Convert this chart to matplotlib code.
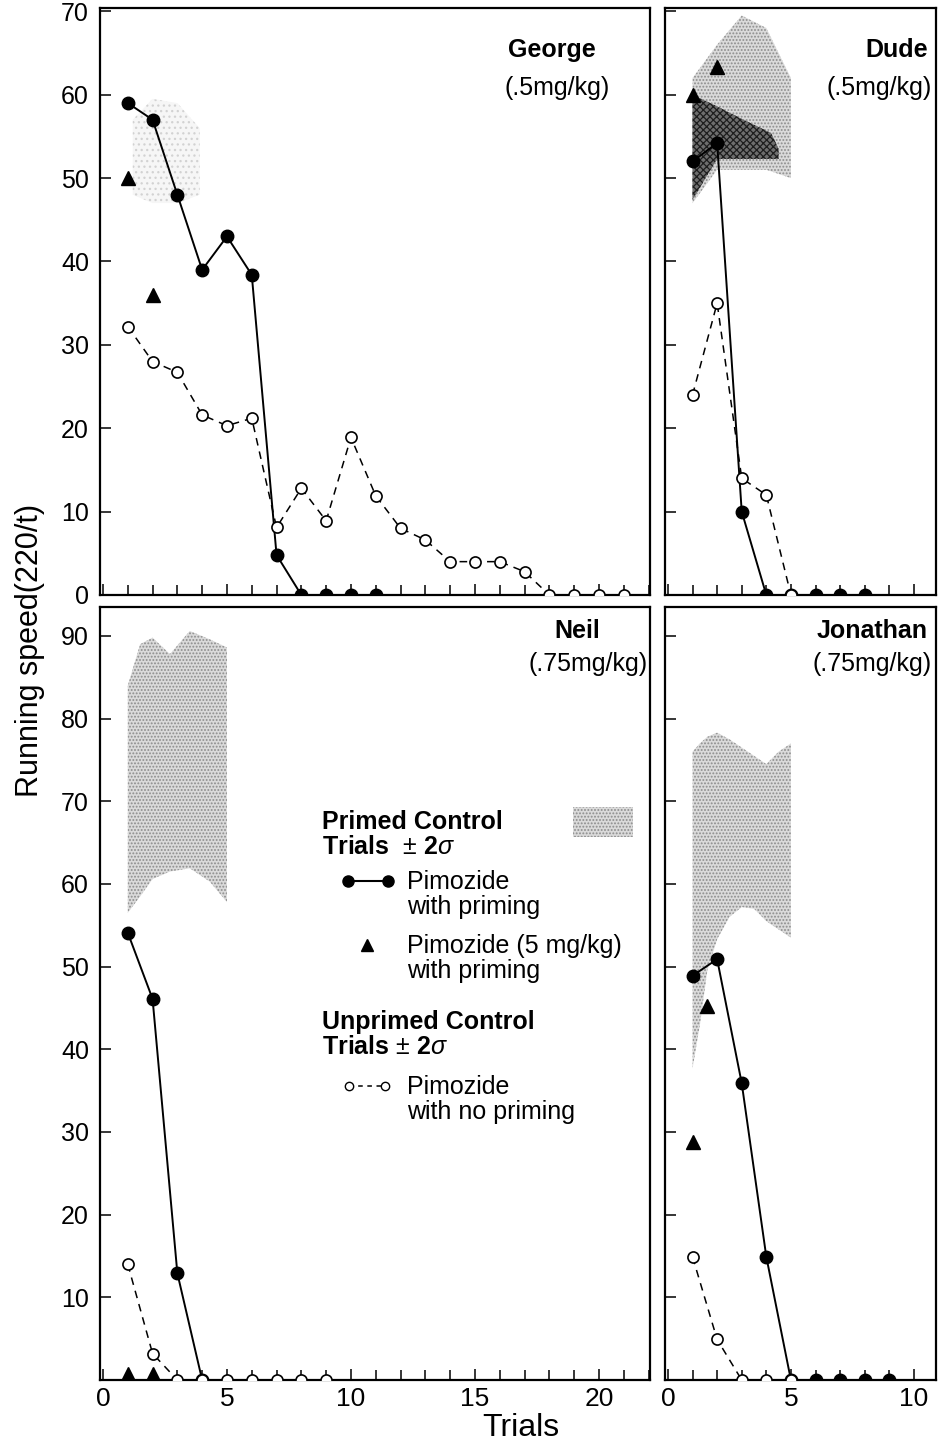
import matplotlib
matplotlib.use("Agg")
import matplotlib.pyplot as plt
from matplotlib.lines import Line2D
from matplotlib.patches import Rectangle

plt.rcParams['font.family'] = ['Liberation Sans', 'DejaVu Sans']
plt.rcParams['mathtext.fontset'] = 'custom'
plt.rcParams['mathtext.it'] = 'Liberation Sans:italic'
plt.rcParams['mathtext.rm'] = 'Liberation Sans'
plt.rcParams['hatch.linewidth'] = 0.9

# ---------------- data ----------------
# George (.5 mg/kg)
george_primed_x = [1, 2, 3, 4, 5, 6, 7, 8, 9, 10, 11]
george_primed_y = [59, 57, 48, 39, 43, 38.4, 4.8, 0, 0, 0, 0]
george_tri_x = [1, 2]
george_tri_y = [50, 36]
george_unprimed_x = list(range(1, 22))
george_unprimed_y = [32.2, 28.0, 26.7, 21.6, 20.3, 21.2, 8.1, 12.8, 8.9, 18.9, 11.9,
                     8.0, 6.6, 4.0, 4.0, 4.0, 2.8, 0, 0, 0, 0]
george_band_x = [1.2, 2, 3, 3.9]
george_band_hi = [57, 59.5, 59, 56]
george_band_lo = [48, 47, 47, 48]

# Dude (.5 mg/kg)
dude_primed_x = [1, 2, 3, 4, 5, 6, 7, 8]
dude_primed_y = [52, 54.2, 10, 0, 0, 0, 0, 0]
dude_tri_x = [1, 2]
dude_tri_y = [60, 63.3]
dude_unprimed_x = [1, 2, 3, 4, 5]
dude_unprimed_y = [24, 35, 14, 12, 0]
dude_band_x = [1, 2, 3, 4, 5]
dude_band_hi = [62, 66, 69.5, 68, 62]
dude_band_lo = [47, 51, 51, 51, 50]
dude_band2_x = [1, 2, 3, 4.2, 4.5]
dude_band2_hi = [60, 58.6, 57.1, 55.4, 53.5]
dude_band2_lo = [47.4, 52.3, 52.3, 52.3, 52.3]

# Neil (.75 mg/kg)
neil_primed_x = [1, 2, 3, 4]
neil_primed_y = [54.1, 46.1, 12.9, 0]
neil_tri_x = [1, 2]
neil_tri_y = [0.7, 0.7]
neil_unprimed_x = [1, 2, 3, 4, 5, 6, 7, 8, 9]
neil_unprimed_y = [14, 3.2, 0, 0, 0, 0, 0, 0, 0]
neil_band_x = [1, 1.5, 2, 2.7, 3.5, 4.3, 5]
neil_band_hi = [84, 89, 89.8, 87.8, 90.6, 89.6, 88.6]
neil_band_lo = [56.5, 58.5, 60.6, 61.5, 61.9, 60.3, 57.8]

# Jonathan (.75 mg/kg)
jon_primed_x = [1, 2, 3, 4, 5, 6, 7, 8, 9]
jon_primed_y = [48.9, 50.9, 35.9, 14.9, 0, 0, 0, 0, 0]
jon_tri_x = [1, 1.6]
jon_tri_y = [28.8, 45.2]
jon_unprimed_x = [1, 2, 3, 4, 5]
jon_unprimed_y = [14.9, 4.9, 0, 0, 0]
jon_band_x = [1, 1.3, 1.6, 2, 2.5, 3, 3.5, 4, 4.5, 5]
jon_band_hi = [76, 77, 77.8, 78.3, 77.5, 76.5, 75.5, 74.5, 76, 77]
jon_band_lo = [37.7, 43, 49.5, 53.3, 56, 57.2, 57, 55.5, 54.5, 53.5]

names = ['George', 'Dude', 'Neil', 'Jonathan']
doses = ['(.5mg/kg)', '(.5mg/kg)', '(.75mg/kg)', '(.75mg/kg)']
top_yticks = [0, 10, 20, 30, 40, 50, 60, 70]
bot_yticks = [10, 20, 30, 40, 50, 60, 70, 80, 90]
left_xticks = [0, 5, 10, 15, 20]
right_xticks = [0, 5, 10]

# ---------------- figure ----------------
W, H = 938, 1446
fig = plt.figure(figsize=(W / 100, H / 100), dpi=100)


def fx(x):
    return x / W


def fy(y):
    return 1 - y / H


def add_ax(x0, x1, ytop, ybot):
    return fig.add_axes([fx(x0), fy(ybot), fx(x1) - fx(x0), (ybot - ytop) / H])


axTL = add_ax(100, 650, 8, 595)
axTR = add_ax(665, 936, 8, 595)
axBL = add_ax(100, 650, 607, 1380)
axBR = add_ax(665, 936, 607, 1380)

LIGHT = dict(facecolor='#dadada', edgecolor='#8c8c8c', hatch='.....', linewidth=0)
FAINT = dict(facecolor='#f6f6f6', edgecolor='#d2d2d2', hatch='...', linewidth=0)
DARK = dict(facecolor='#6e6e6e', edgecolor='#1e1e1e', hatch='xxxxx', linewidth=0)

fill_style = dict(color='black', lw=1.4, marker='o', ms=9, zorder=4, clip_on=True)
open_style = dict(color='black', lw=1.1, ls=(0, (5, 4)), marker='o', ms=8,
                  mfc='white', mec='black', mew=1.2, zorder=5, clip_on=True)
tri_style = dict(ls='none', marker='^', ms=10, color='black', zorder=6, clip_on=True)


def panel(ax, px, py, tx, ty, ux, uy, bands):
    for bx, lo, hi, st in bands:
        ax.fill_between(bx, lo, hi, zorder=1, **st)
    ax.plot(px, py, **fill_style)
    ax.plot(ux, uy, **open_style)
    ax.plot(tx, ty, **tri_style)


panel(axTL, george_primed_x, george_primed_y, george_tri_x, george_tri_y,
      george_unprimed_x, george_unprimed_y,
      [(george_band_x, george_band_lo, george_band_hi, FAINT)])
panel(axTR, dude_primed_x, dude_primed_y, dude_tri_x, dude_tri_y,
      dude_unprimed_x, dude_unprimed_y,
      [(dude_band_x, dude_band_lo, dude_band_hi, LIGHT),
       (dude_band2_x, dude_band2_lo, dude_band2_hi, DARK)])
panel(axBL, neil_primed_x, neil_primed_y, neil_tri_x, neil_tri_y,
      neil_unprimed_x, neil_unprimed_y,
      [(neil_band_x, neil_band_lo, neil_band_hi, LIGHT)])
panel(axBR, jon_primed_x, jon_primed_y, jon_tri_x, jon_tri_y,
      jon_unprimed_x, jon_unprimed_y,
      [(jon_band_x, jon_band_lo, jon_band_hi, LIGHT)])

for ax in (axTL, axTR, axBL, axBR):
    for s in ax.spines.values():
        s.set_linewidth(1.6)
    ax.tick_params(which='both', direction='in', width=1.1)
    ax.tick_params(which='major', length=8)
    ax.tick_params(which='minor', length=7)
    ax.tick_params(axis='y', pad=8, labelsize=18)
    ax.tick_params(axis='x', pad=5, labelsize=19)

for ax in (axTL, axBL):
    ax.set_xlim(-0.12, 22.06)
    ax.set_xticks(left_xticks)
    ax.set_xticks(range(0, 23), minor=True)
for ax in (axTR, axBR):
    ax.set_xlim(-0.12, 10.9)
    ax.set_xticks(right_xticks)
    ax.set_xticks(range(0, 11), minor=True)
    ax.tick_params(axis='y', labelleft=False)
for ax in (axTL, axTR):
    ax.set_ylim(0, 70.4)
    ax.set_yticks(top_yticks)
    ax.tick_params(axis='x', labelbottom=False)
for ax in (axBL, axBR):
    ax.set_ylim(0, 93.5)
    ax.set_yticks(bot_yticks)

# panel labels
label_pos = [
    ((552, 50, 'center'), (557, 88, 'center')),
    ((928, 50, 'right'), (932, 88, 'right')),
    ((577, 631, 'center'), (648, 664, 'right')),
    ((928, 631, 'right'), (932, 664, 'right')),
]
for name, dose, ((nx, ny, nha), (dx, dy, dha)) in zip(names, doses, label_pos):
    fig.text(fx(nx), fy(ny), name, ha=nha, va='center', fontsize=18, fontweight='bold')
    fig.text(fx(dx), fy(dy), dose, ha=dha, va='center', fontsize=18)

# axis labels
fig.text(fx(521), fy(1428), 'Trials', ha='center', va='center', fontsize=23,
         family=['Liberation Sans Narrow', 'Liberation Sans'])
fig.text(fx(30), fy(650), 'Running speed(220/t)', ha='center', va='center',
         rotation=90, fontsize=22)

# legend
LX = 322
TX = 407
fs = 18
fig.text(fx(LX), fy(822), 'Primed Control', ha='left', va='center', fontsize=fs, fontweight='bold')
fig.text(fx(LX), fy(847), r'Trials  $\pm$ 2$\sigma$', ha='left', va='center', fontsize=fs, fontweight='bold')
fig.add_artist(Rectangle((fx(573), fy(837)), fx(633) - fx(573), (837 - 807) / H,
                         transform=fig.transFigure, **LIGHT))
fig.add_artist(Line2D([fx(348), fx(388)], [fy(881), fy(881)], transform=fig.transFigure,
                      color='black', lw=1.5, marker='o', ms=8))
fig.text(fx(TX), fy(882), 'Pimozide', ha='left', va='center', fontsize=fs)
fig.text(fx(TX), fy(907), 'with priming', ha='left', va='center', fontsize=fs)
fig.add_artist(Line2D([fx(367)], [fy(945)], transform=fig.transFigure,
                      ls='none', color='black', marker='^', ms=9))
fig.text(fx(TX), fy(946), 'Pimozide (5 mg/kg)', ha='left', va='center', fontsize=fs)
fig.text(fx(TX), fy(971), 'with priming', ha='left', va='center', fontsize=fs)
fig.text(fx(LX), fy(1022), 'Unprimed Control', ha='left', va='center', fontsize=fs, fontweight='bold')
fig.text(fx(LX), fy(1047), r'Trials $\pm$ 2$\sigma$', ha='left', va='center', fontsize=fs, fontweight='bold')
fig.add_artist(Line2D([fx(349), fx(385)], [fy(1086), fy(1086)], transform=fig.transFigure,
                      color='black', lw=1.1, ls=(0, (3, 3)), marker='o', ms=6,
                      mfc='white', mec='black', mew=1.0))
fig.text(fx(TX), fy(1087), 'Pimozide', ha='left', va='center', fontsize=fs)
fig.text(fx(TX), fy(1112), 'with no priming', ha='left', va='center', fontsize=fs)

fig.savefig('out.png', dpi=100)
